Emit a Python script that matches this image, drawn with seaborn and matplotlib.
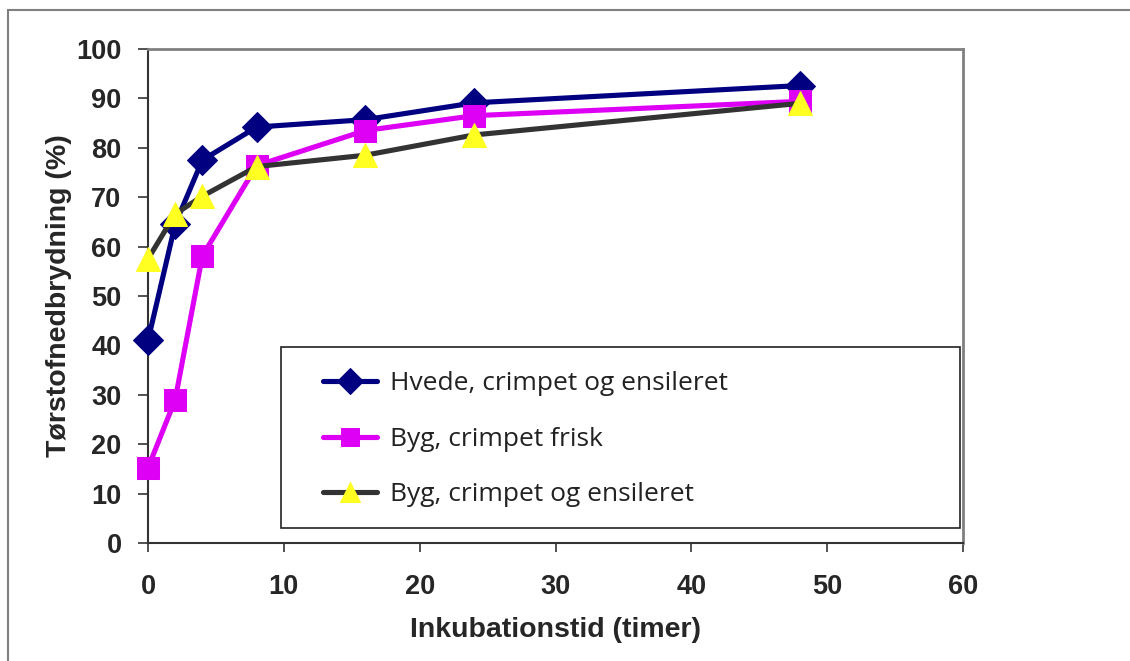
import matplotlib
matplotlib.use("Agg")
import matplotlib.pyplot as plt
import seaborn as sns
import pandas as pd
from matplotlib.patches import Rectangle

# Data
hours = [0, 2, 4, 8, 16, 24, 48]
hvede_ensileret = [41.0, 64.5, 77.5, 84.2, 85.7, 89.1, 92.6]
byg_frisk = [15.2, 29.0, 58.1, 76.4, 83.5, 86.5, 89.4]
byg_ensileret = [57.5, 66.6, 70.2, 76.2, 78.5, 82.6, 89.0]
series_names = ["Hvede, crimpet og ensileret", "Byg, crimpet frisk", "Byg, crimpet og ensileret"]
x_ticks = [0, 10, 20, 30, 40, 50, 60]
y_ticks = [0, 10, 20, 30, 40, 50, 60, 70, 80, 90, 100]

df = pd.DataFrame({"hours": hours, "s1": hvede_ensileret, "s2": byg_frisk, "s3": byg_ensileret})

sns.set_theme(style="white")
plt.rcParams["font.family"] = ["Liberation Sans", "DejaVu Sans"]

fig = plt.figure(figsize=(11.3, 6.61), dpi=100)
ax = fig.add_axes([148/1130, 1-543/661, (963-148)/1130, (543-49)/661])

# outer border
fig.patches.append(Rectangle((8/1130, -0.1), 1.2, 1-10/661+0.1, transform=fig.transFigure,
                             fill=False, edgecolor="#808080", linewidth=1.5, zorder=0))

lw = 3.7
common = dict(ax=ax, linewidth=lw, clip_on=False)
sns.lineplot(data=df, x="hours", y="s1", color="#000080",
             marker="D", markersize=15, markerfacecolor="#000080", markeredgecolor="#000080",
             label=series_names[0], zorder=3, **common)
sns.lineplot(data=df, x="hours", y="s2", color="#DD00F5",
             marker="s", markersize=16, markerfacecolor="#DD00F5", markeredgecolor="#DD00F5",
             label=series_names[1], zorder=4, **common)
sns.lineplot(data=df, x="hours", y="s3", color="#333333",
             marker="^", markersize=17, markerfacecolor="#FFFF22", markeredgecolor="#FFFF22",
             label=series_names[2], zorder=5, **common)

ax.set_xlim(0, 60)
ax.set_ylim(0, 100)
ax.set_xticks(x_ticks)
ax.set_yticks(y_ticks)
ax.set_xticklabels([str(v) for v in x_ticks], fontsize=19.5, fontweight="bold")
ax.set_yticklabels([str(v) for v in y_ticks], fontsize=19.5, fontweight="bold")
ax.tick_params(axis="both", direction="out", width=1.2, color="#333333",
               bottom=True, left=True)
ax.tick_params(axis="y", length=7.5, pad=11.5)
ax.tick_params(axis="x", length=6.5, pad=16)

for side in ["left", "bottom"]:
    ax.spines[side].set_color("#333333")
    ax.spines[side].set_linewidth(1.5)
for side in ["top", "right"]:
    ax.spines[side].set_color("#808080")
    ax.spines[side].set_linewidth(2)

ax.set_xlabel("Inkubationstid (timer)", fontsize=20.5, fontweight="bold", labelpad=12)
ax.set_ylabel("Tørstofnedbrydning (%)", fontsize=20.5, fontweight="bold", labelpad=3)

# legend box
ax.add_patch(Rectangle((133/815, 15/494), 679/815, 181/494, transform=ax.transAxes,
                       facecolor="white", edgecolor="#222222", linewidth=1.2,
                       zorder=6, clip_on=False))
leg = ax.legend(loc="upper left", bbox_to_anchor=((323-148)/815, (543-371)/494),
                frameon=False, prop={"family": ["Open Sans", "DejaVu Sans"], "size": 19},
                handlelength=54/26.4, handletextpad=13/26.4, labelspacing=1.165,
                borderpad=0, borderaxespad=0, markerscale=0.85)
leg.set_zorder(7)
for t in leg.get_texts():
    t.set_color("#222222")
for ln in leg.get_lines():
    ln.set_solid_capstyle("round")

fig.savefig("out.png", dpi=100, facecolor="white")
